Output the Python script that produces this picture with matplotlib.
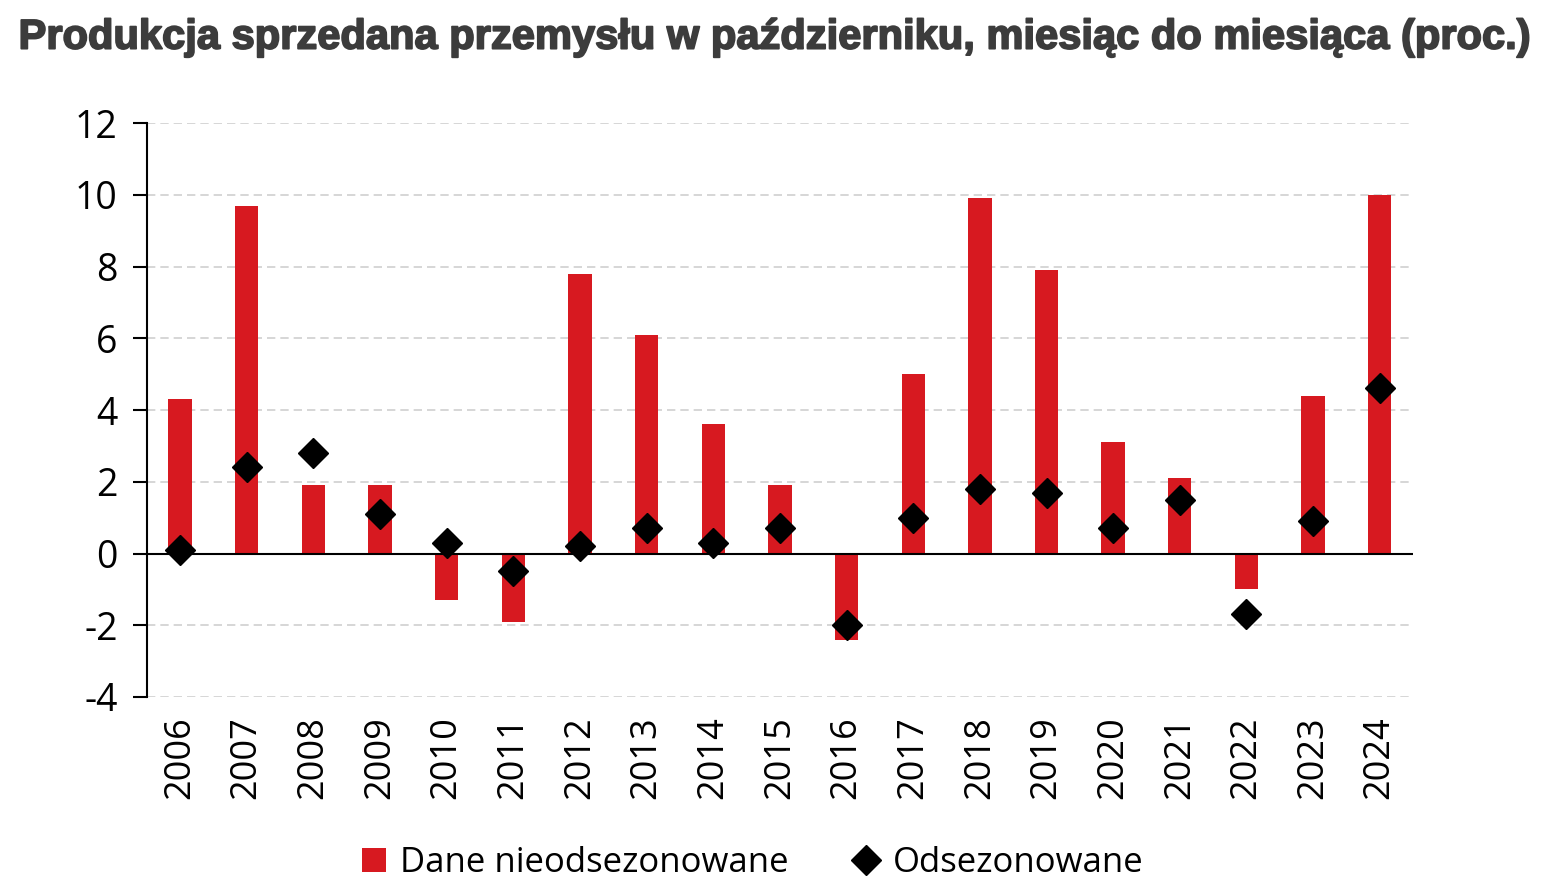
import matplotlib
matplotlib.use("Agg")
import matplotlib.pyplot as plt
import matplotlib.patheffects as pe
from matplotlib.lines import Line2D
from matplotlib.patches import Patch

# data
years = [str(y) for y in range(2006, 2025)]
nsa = [4.3, 9.7, 1.9, 1.9, -1.3, -1.9, 7.8, 6.1, 3.6, 1.9, -2.4, 5.0, 9.9, 7.9, 3.1, 2.1, -1.0, 4.4, 10.0]
sa = [0.1, 2.4, 2.8, 1.1, 0.3, -0.5, 0.2, 0.7, 0.3, 0.7, -2.0, 1.0, 1.8, 1.7, 0.7, 1.5, -1.7, 0.9, 4.6]
yticks = [-4, -2, 0, 2, 4, 6, 8, 10, 12]

red = "#d71920"
plt.rcParams["font.family"] = ["Open Sans", "DejaVu Sans"]

fig = plt.figure(figsize=(15.45, 8.96), dpi=100)
ax = fig.add_axes([0.095, 0.2221, 0.8196, 0.6406])

x = list(range(len(years)))
ax.bar(x, nsa, width=0.35, color=red, zorder=2)
ax.plot(x, sa, linestyle="none", marker="D", markersize=15, color="black", zorder=3)

ax.set_xlim(-0.5, len(years) - 0.5)
ax.set_ylim(-4, 12)
ax.set_yticks(yticks)
ax.set_yticklabels([str(t) for t in yticks], fontsize=27)
ax.axhline(0, color="black", linewidth=1.5, zorder=2)
ax.yaxis.grid(True, linestyle=(0, (5, 3)), color="#d0d0d0", linewidth=1.2, zorder=0)

for s in ["top", "right", "bottom"]:
    ax.spines[s].set_visible(False)
ax.spines["left"].set_linewidth(1.5)
ax.tick_params(axis="y", length=10, width=1.5, pad=11)
ax.set_xticks(x)
ax.set_xticklabels(years, rotation=90, fontsize=26)
ax.tick_params(axis="x", length=0, pad=14)

fig.text(0.012, 0.958, "Produkcja sprzedana przemysłu w październiku, miesiąc do miesiąca (proc.)",
         ha="left", va="center", fontsize=30, fontweight="bold", color="#3c3c3c",
         family=["Liberation Sans", "DejaVu Sans"],
         path_effects=[pe.withStroke(linewidth=1.3, foreground="#3c3c3c")])

handles = [Patch(facecolor=red), Line2D([], [], linestyle="none", marker="D", markersize=15, color="black")]
fig.legend(handles, ["Dane nieodsezonowane", "Odsezonowane"], loc="center", bbox_to_anchor=(0.487, 0.037),
           ncol=2, frameon=False, fontsize=25, handlelength=0.7, handletextpad=0.4, columnspacing=1.9)

fig.savefig("out.png", dpi=100)
